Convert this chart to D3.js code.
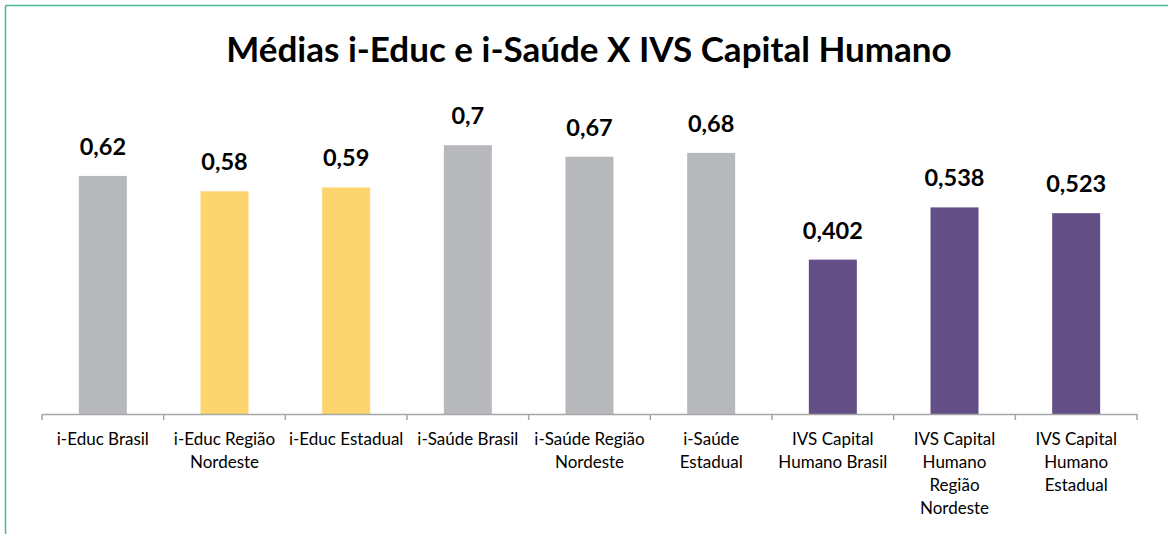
<!DOCTYPE html>
<html>
<head>
<meta charset="utf-8">
<script src="https://cdn.jsdelivr.net/npm/d3@7"></script>
<style>
  html, body { margin: 0; padding: 0; background: #fff; }
  svg { display: block; }
</style>
</head>
<body>
<svg id="chart" width="1168" height="534"></svg>
<script>
// Indicator keys, their axis labels (with line breaks) and values
const categories = [
  "educBrasil", "educNordeste", "educEstadual",
  "saudeBrasil", "saudeNordeste", "saudeEstadual",
  "ivsBrasil", "ivsNordeste", "ivsEstadual"
];
const tickLabels = [
  "i-Educ Brasil", "i-Educ Região\nNordeste", "i-Educ Estadual",
  "i-Saúde Brasil", "i-Saúde Região\nNordeste", "i-Saúde\nEstadual",
  "IVS Capital\nHumano Brasil", "IVS Capital\nHumano\nRegião\nNordeste", "IVS Capital\nHumano\nEstadual"
];
const values = [0.62, 0.58, 0.59, 0.7, 0.67, 0.68, 0.402, 0.538, 0.523];
const valueLabels = ["0,62", "0,58", "0,59", "0,7", "0,67", "0,68", "0,402", "0,538", "0,523"];
const barColors = ["#b7b8bc", "#fcd56f", "#fcd56f", "#b7b8bc", "#b7b8bc", "#b7b8bc", "#634f86", "#634f86", "#634f86"];

const svg = d3.select("#chart");
const W = 1168, H = 534;
const plot = { left: 42, right: 1137, top: 30, bottom: 414 };
const font = "Lato, 'Open Sans', sans-serif";

// Frame lines (top and left)
svg.append("line").attr("x1", 5.5).attr("x2", W).attr("y1", 5.5).attr("y2", 5.5)
  .attr("stroke", "#4fb396").attr("stroke-width", 1.5);
svg.append("line").attr("x1", 5.5).attr("x2", 5.5).attr("y1", 5.5).attr("y2", H)
  .attr("stroke", "#4fb396").attr("stroke-width", 1.5);

// Title
svg.append("text")
  .attr("x", 589).attr("y", 62)
  .attr("text-anchor", "middle")
  .attr("font-family", font)
  .attr("font-weight", 700)
  .attr("font-size", 35)
  .attr("fill", "#000")
  .text("Médias i-Educ e i-Saúde X IVS Capital Humano");

const x = d3.scaleBand().domain(categories).range([plot.left, plot.right]).paddingInner(0).paddingOuter(0);
const y = d3.scaleLinear().domain([0, 1]).range([plot.bottom, plot.bottom - 384]);
const barW = 48;

// Bars
svg.append("g").selectAll("rect").data(categories).join("rect")
  .attr("x", d => x(d) + x.bandwidth() / 2 - barW / 2)
  .attr("width", barW)
  .attr("y", (d, i) => y(values[i]))
  .attr("height", (d, i) => y(0) - y(values[i]))
  .attr("fill", (d, i) => barColors[i]);

// Value labels
svg.append("g").selectAll("text").data(categories).join("text")
  .attr("x", d => x(d) + x.bandwidth() / 2)
  .attr("y", (d, i) => y(values[i]) - 21)
  .attr("text-anchor", "middle")
  .attr("font-family", font)
  .attr("font-weight", 700)
  .attr("font-size", 23.5)
  .attr("fill", "#000")
  .text((d, i) => valueLabels[i]);

// Category axis
const axis = d3.axisBottom(x).tickSize(0).tickFormat(() => "");
const gAxis = svg.append("g").attr("transform", `translate(0,${plot.bottom})`).call(axis);
gAxis.select(".domain").attr("stroke", "#a6a6a6").attr("stroke-width", 1.5);
gAxis.selectAll(".tick").remove();

// Tick marks at category boundaries
const bounds = categories.map(d => x(d)).concat([plot.right]);
gAxis.selectAll("line.sep").data(bounds).join("line")
  .attr("class", "sep")
  .attr("x1", d => d).attr("x2", d => d)
  .attr("y1", 0).attr("y2", 6)
  .attr("stroke", "#a6a6a6").attr("stroke-width", 1.5);

// Multi-line tick labels
const lbl = gAxis.selectAll("text.cat").data(categories).join("text")
  .attr("class", "cat")
  .attr("text-anchor", "middle")
  .attr("font-family", font)
  .attr("font-size", 17)
  .attr("fill", "#000")
  .attr("transform", d => `translate(${x(d) + x.bandwidth() / 2},31)`);
lbl.each(function(d, i) {
  const lines = tickLabels[i].split("\n");
  d3.select(this).selectAll("tspan").data(lines).join("tspan")
    .attr("x", 0).attr("dy", (l, j) => j === 0 ? 0 : 23)
    .text(l => l);
});
</script>
</body>
</html>
